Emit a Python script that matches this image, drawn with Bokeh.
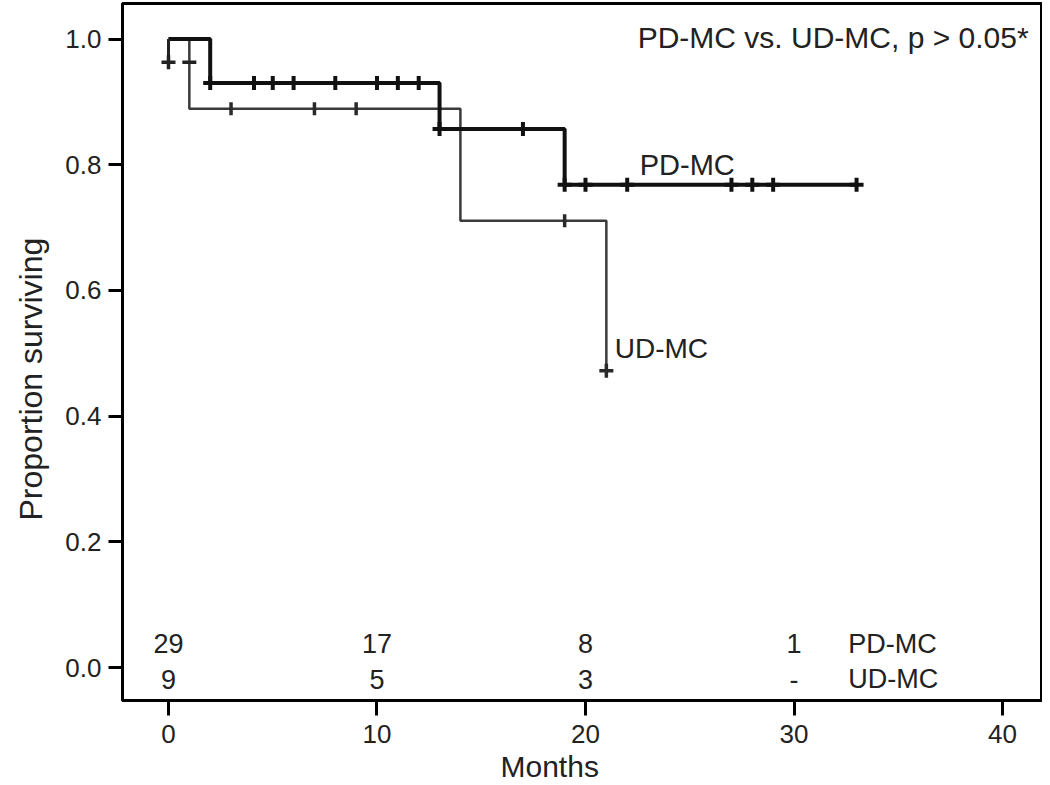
import numpy as np
from bokeh.plotting import figure
from bokeh.models import Range1d, FixedTicker, PrintfTickFormatter, Label, Title
from bokeh.core.properties import value
from bokeh.embed import file_html
from bokeh.resources import INLINE

# ---- data ----
pd_times = [0.0, 2.0, 13.0, 19.0, 33.0]
pd_surv = [1.0, 0.930, 0.857, 0.768, 0.768]
pd_cens_t = [2.0, 4.1, 5.0, 6.0, 8.0, 10.0, 11.0, 12.0, 13.0, 17.0, 19.0, 20.0, 22.0, 27.0, 28.0, 29.0, 33.0]
pd_cens_s = [0.930, 0.930, 0.930, 0.930, 0.930, 0.930, 0.930, 0.930, 0.857, 0.857, 0.768, 0.768, 0.768, 0.768, 0.768, 0.768, 0.768]

ud_times = [0.0, 1.0, 14.0, 21.0, 21.0]
ud_surv = [1.0, 0.889, 0.711, 0.472, 0.472]
ud_cens_t = [3.0, 7.0, 9.0, 19.0]
ud_cens_s = [0.889, 0.889, 0.889, 0.711]
ud_last_t = [21.0]
ud_last_s = [0.472]

early_t = [0.0, 1.0]
early_s = [0.963, 0.963]

risk_months = [0, 10, 20, 30]
risk_pd = ["29", "17", "8", "1"]
risk_ud = ["9", "5", "3", "-"]

x_ticks = [0, 10, 20, 30, 40]
y_ticks = [0.0, 0.2, 0.4, 0.6, 0.8, 1.0]

FONT = "Liberation Sans"
TXT = "#222222"

p = figure(width=1042, height=785, output_backend="svg", toolbar_location=None,
           x_range=Range1d(-2.206, 41.87), y_range=Range1d(-0.0525, 1.0565),
           min_border_left=122, min_border_right=1, min_border_top=3, min_border_bottom=85)
p.grid.visible = False
p.outline_line_color = "black"
p.outline_line_width = 3
p.background_fill_color = "white"
p.border_fill_color = "white"

for ax in (p.xaxis, p.yaxis):
    ax.axis_line_width = 3
    ax.axis_line_color = "black"
    ax.major_tick_line_width = 3
    ax.major_tick_line_color = "black"
    ax.major_tick_in = 0
    ax.minor_tick_line_color = None
    ax.major_label_text_font = FONT
    ax.major_label_text_font_size = "26px"
    ax.major_label_text_color = TXT

p.xaxis.ticker = FixedTicker(ticks=x_ticks)
p.yaxis.ticker = FixedTicker(ticks=y_ticks)
p.yaxis.formatter = PrintfTickFormatter(format="%.1f")
p.xaxis.major_tick_out = 15
p.yaxis.major_tick_out = 14
p.xaxis.major_label_standoff = 9
p.yaxis.major_label_standoff = 7

# axis titles as side titles (positioned outside the frame)
p.add_layout(Title(text="Months", align="left", offset=378, standoff=4,
                   text_font=FONT, text_font_size="30px", text_font_style="normal",
                   text_color=TXT), "below")
p.add_layout(Title(text="Proportion surviving", align="left", offset=180, standoff=24,
                   vertical_align="top",
                   text_font=FONT, text_font_size="32px", text_font_style="normal",
                   text_color=TXT), "left")

# UD-MC (thin)
p.step(ud_times, ud_surv, mode="after", line_width=2.5, line_color="#3a3a3a")
p.scatter(ud_cens_t, ud_cens_s, marker="dash", angle=np.pi / 2, size=13,
          line_width=3.5, line_color="#2a2a2a")
p.scatter(ud_last_t, ud_last_s, marker="cross", size=14, line_width=3.5, line_color="#2a2a2a")

# PD-MC (thick)
p.step(pd_times, pd_surv, mode="after", line_width=4, line_color="#111111")
p.scatter(pd_cens_t, pd_cens_s, marker="cross", size=14, line_width=4, line_color="#111111")

# early marks
p.line([early_t[0], early_t[0]], [1.0, early_s[0]], line_width=3, line_color="#222222")
p.scatter([early_t[0]], [early_s[0]], marker="cross", size=14, line_width=3.5, line_color="#222222")
p.scatter([early_t[1]], [early_s[1]], marker="dash", size=14, line_width=3.5, line_color="#222222")

# number at risk
p.text(risk_months, [0.038] * 4, text=risk_pd, text_align="center", text_baseline="middle",
       text_font=value(FONT), text_font_size="27px", text_color=TXT)
p.text(risk_months, [-0.019] * 4, text=risk_ud, text_align="center", text_baseline="middle",
       text_font=value(FONT), text_font_size="27px", text_color=TXT)
p.text([32.6, 32.6], [0.038, -0.019], text=["PD-MC", "UD-MC"], text_align="left",
       text_baseline="middle", text_font=value(FONT), text_font_size="27px", text_color=TXT)

# curve labels
p.add_layout(Label(x=22.6, y=0.800, text="PD-MC", text_align="left", text_baseline="middle",
                   text_font=FONT, text_font_size="29px", text_color=TXT))
p.add_layout(Label(x=21.4, y=0.508, text="UD-MC", text_align="left", text_baseline="middle",
                   text_font=FONT, text_font_size="28px", text_color=TXT))
p.add_layout(Label(x=41.25, y=1.002, text="PD-MC vs. UD-MC, p > 0.05*", text_align="right",
                   text_baseline="middle", text_font=FONT, text_font_size="30px", text_color=TXT))

open("out.html", "w").write(file_html(p, INLINE))
